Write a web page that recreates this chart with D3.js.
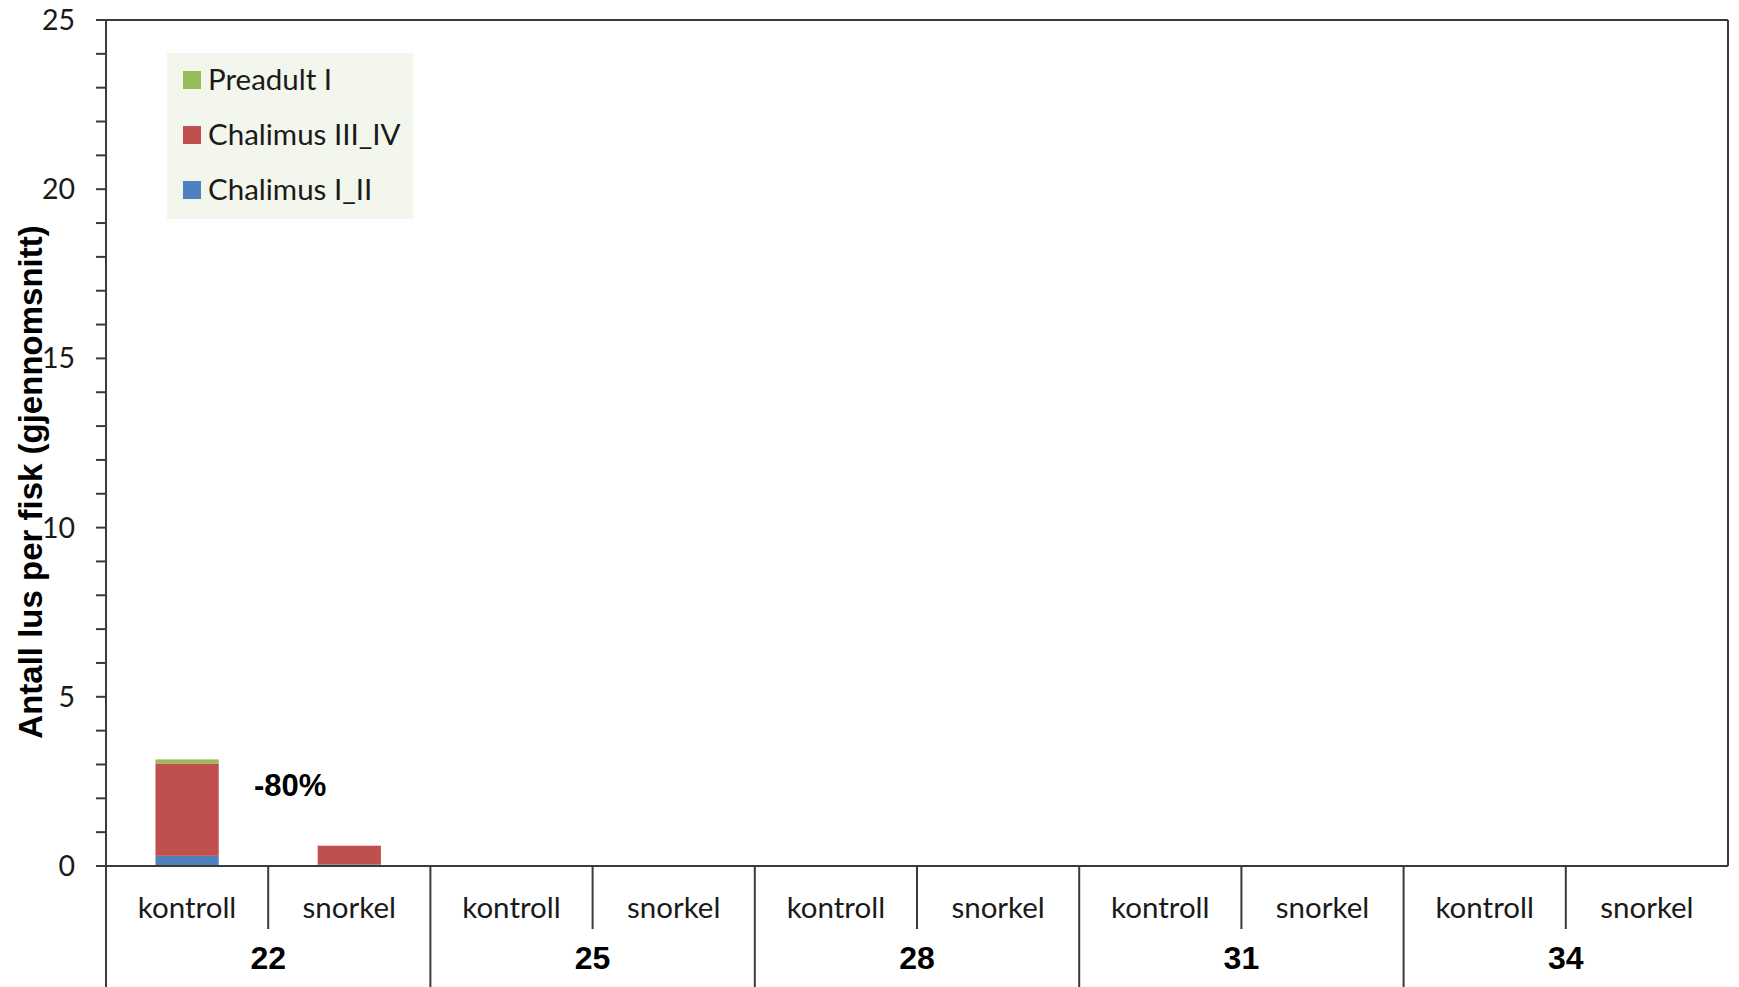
<!DOCTYPE html>
<html>
<head>
<meta charset="utf-8">
<script src="https://cdn.jsdelivr.net/npm/d3@7"></script>
<style>
  html, body { margin: 0; padding: 0; background: #fff; }
  svg { display: block; }
</style>
</head>
<body>
<svg id="chart" width="1739" height="987"></svg>
<script>
// ---- data ----
const groups = ["22", "25", "28", "31", "34"];
const treatments = ["kontroll", "snorkel"];
const seriesNames = ["Chalimus I_II", "Chalimus III_IV", "Preadult I"];
const seriesColors = ["#4f81bd", "#c0504d", "#9bbb59"];
// values in order: 22 kontroll, 22 snorkel, 25 kontroll, 25 snorkel, ...
const chalimusI_II   = [0.30, 0.05, 0, 0, 0, 0, 0, 0, 0, 0];
const chalimusIII_IV = [2.73, 0.55, 0, 0, 0, 0, 0, 0, 0, 0];
const preadultI      = [0.12, 0.00, 0, 0, 0, 0, 0, 0, 0, 0];
const yTickValues = [0, 5, 10, 15, 20, 25];
const annotations = [{ group: "22", value: 2.4, text: "-80%" }];
const yTitle = "Antall lus per fisk (gjennomsnitt)";

// ---- layout ----
const svg = d3.select("#chart");
const plot = { left: 106, right: 1728, top: 20, bottom: 866 };
const axisColor = "#3a3a3a";
const labelFont = "Lato, 'Open Sans', sans-serif";
const boldFont = "'Liberation Sans', Arial, sans-serif";

const y = d3.scaleLinear().domain([0, 25]).range([plot.bottom, plot.top]);
const xGroup = d3.scaleBand().domain(groups).range([plot.left, plot.right]).padding(0);
const xCat = d3.scaleBand().domain(treatments).range([0, xGroup.bandwidth()]).padding(0);
const barW = xCat.bandwidth() * 0.39;

// build rows
const rows = [];
groups.forEach((g, gi) => treatments.forEach((t, ti) => {
  const i = gi * treatments.length + ti;
  rows.push({ group: g, treat: t, vals: [chalimusI_II[i], chalimusIII_IV[i], preadultI[i]] });
}));
const stackData = rows.map(r => {
  const o = { group: r.group, treat: r.treat };
  seriesNames.forEach((s, k) => o[s] = r.vals[k]);
  return o;
});
const stacked = d3.stack().keys(seriesNames)(stackData);

// plot frame (top and right)
svg.append("line").attr("x1", plot.left - 10).attr("x2", plot.right)
  .attr("y1", plot.top).attr("y2", plot.top).attr("stroke", axisColor).attr("stroke-width", 2);
svg.append("line").attr("x1", plot.right).attr("x2", plot.right)
  .attr("y1", plot.top).attr("y2", plot.bottom).attr("stroke", axisColor).attr("stroke-width", 2);

// bars
stacked.forEach((layer, k) => {
  svg.append("g").selectAll("rect").data(layer).join("rect")
    .attr("x", d => xGroup(d.data.group) + xCat(d.data.treat) + xCat.bandwidth() / 2 - barW / 2)
    .attr("width", barW)
    .attr("y", d => y(d[1]))
    .attr("height", d => Math.max(0, y(d[0]) - y(d[1])))
    .attr("fill", seriesColors[k]);
});

// y axis
const yAxisG = svg.append("g").attr("transform", `translate(${plot.left},0)`);
yAxisG.append("line").attr("x1", 0).attr("x2", 0).attr("y1", plot.top).attr("y2", 987)
  .attr("stroke", axisColor).attr("stroke-width", 2);
const minor = d3.range(0, 26, 1);
yAxisG.selectAll("line.tick").data(minor).join("line").attr("class", "tick")
  .attr("x1", -10).attr("x2", 0).attr("y1", d => y(d)).attr("y2", d => y(d))
  .attr("stroke", axisColor).attr("stroke-width", 2);
yAxisG.selectAll("text").data(yTickValues).join("text")
  .attr("x", -31).attr("y", d => y(d)).attr("dy", "0.35em")
  .attr("text-anchor", "end")
  .attr("font-family", labelFont).attr("font-size", 28.5).attr("fill", "#1a1a1a")
  .text(d => d);

// zero line
svg.append("line").attr("x1", plot.left - 10).attr("x2", plot.right)
  .attr("y1", y(0)).attr("y2", y(0)).attr("stroke", axisColor).attr("stroke-width", 2);

// category axis
const catG = svg.append("g");
groups.forEach((g, gi) => {
  const gx = xGroup(g);
  if (gi > 0) {
    catG.append("line").attr("x1", gx).attr("x2", gx).attr("y1", y(0)).attr("y2", 987)
      .attr("stroke", axisColor).attr("stroke-width", 2);
  }
  treatments.forEach((t, ti) => {
    if (ti > 0) {
      const tx = gx + xCat(t);
      catG.append("line").attr("x1", tx).attr("x2", tx).attr("y1", y(0)).attr("y2", 929)
        .attr("stroke", axisColor).attr("stroke-width", 2);
    }
    catG.append("text")
      .attr("x", gx + xCat(t) + xCat.bandwidth() / 2).attr("y", 908).attr("dy", "0.35em")
      .attr("text-anchor", "middle")
      .attr("font-family", labelFont).attr("font-size", 29.5).attr("fill", "#1a1a1a")
      .text(t);
  });
  catG.append("text")
    .attr("x", gx + xGroup.bandwidth() / 2).attr("y", 958).attr("dy", "0.35em")
    .attr("text-anchor", "middle")
    .attr("font-family", boldFont).attr("font-weight", "bold").attr("font-size", 32).attr("fill", "#000")
    .text(g);
});

// annotation
annotations.forEach(a => {
  svg.append("text")
    .attr("x", xGroup(a.group) + xCat.bandwidth() + 22).attr("y", y(a.value)).attr("dy", "0.35em")
    .attr("text-anchor", "middle")
    .attr("font-family", boldFont).attr("font-weight", "bold").attr("font-size", 31).attr("fill", "#000")
    .text(a.text);
});

// y title
svg.append("text")
  .attr("transform", `translate(30,${(227 + 737) / 2}) rotate(-90)`)
  .attr("dy", "0.35em").attr("text-anchor", "middle")
  .attr("font-family", boldFont).attr("font-weight", "bold").attr("font-size", 33).attr("fill", "#000")
  .text(yTitle);

// legend
const legend = svg.append("g").attr("transform", "translate(167,53)");
legend.append("rect").attr("width", 246).attr("height", 166).attr("fill", "#f2f6ec");
const legendOrder = [2, 1, 0];
legendOrder.forEach((k, i) => {
  const cy = 27 + i * 55;
  legend.append("rect").attr("x", 16).attr("y", cy - 9).attr("width", 18).attr("height", 18)
    .attr("fill", seriesColors[k]);
  legend.append("text").attr("x", 41).attr("y", cy).attr("dy", "0.35em")
    .attr("font-family", labelFont).attr("font-size", 29.5).attr("fill", "#1a1a1a")
    .text(seriesNames[k]);
});
</script>
</body>
</html>
